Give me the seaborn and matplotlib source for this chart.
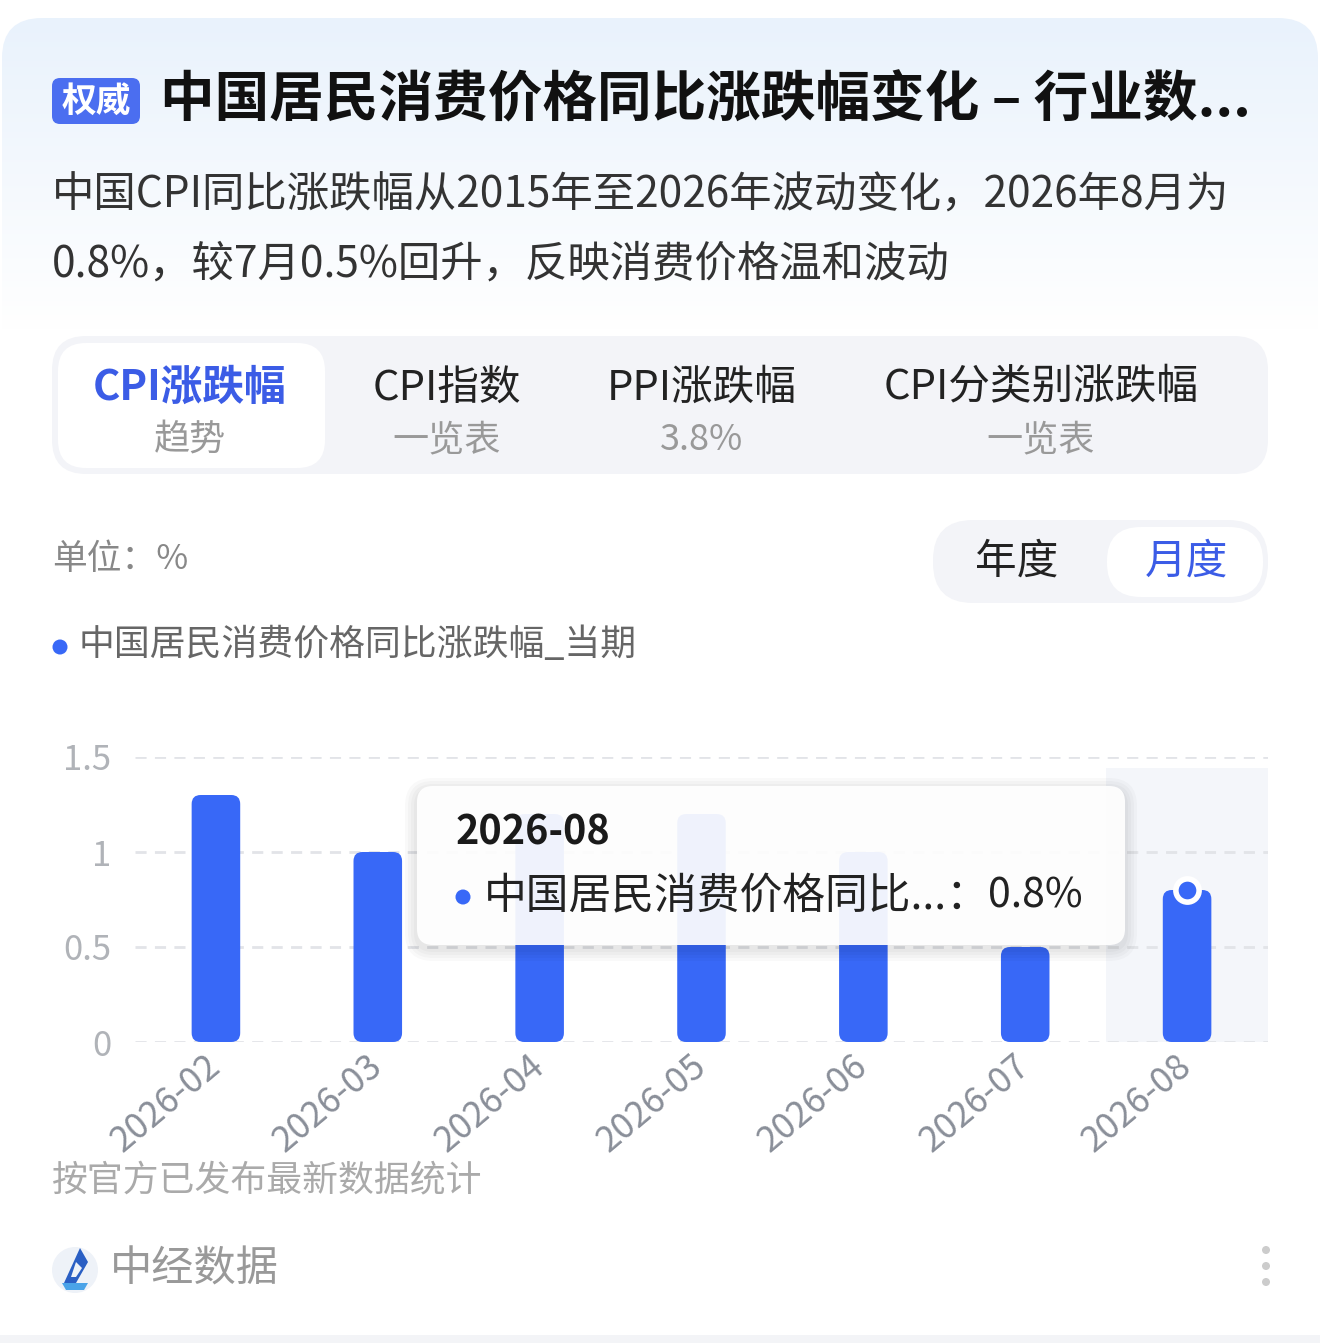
import numpy as np
import pandas as pd
import matplotlib
matplotlib.use("Agg")
import matplotlib.pyplot as plt
from matplotlib.patches import FancyBboxPatch, Rectangle, Circle, Polygon
from matplotlib.colors import LinearSegmentedColormap
import seaborn as sns

# ---------------- data ----------------
months = ["2026-02", "2026-03", "2026-04", "2026-05", "2026-06", "2026-07", "2026-08"]
cpi_values = [1.3, 1.0, 1.2, 1.2, 1.0, 0.5, 0.8]
y_ticks = [0, 0.5, 1, 1.5]
y_tick_labels = ["0", "0.5", "1", "1.5"]
highlight_month = "2026-08"
highlight_value = 0.8

title = "中国居民消费价格同比涨跌幅变化 – 行业数..."
subtitle_1 = "中国CPI同比涨跌幅从2015年至2026年波动变化，2026年8月为"
subtitle_2 = "0.8%，较7月0.5%回升，反映消费价格温和波动"
tab_titles = ["CPI涨跌幅", "CPI指数", "PPI涨跌幅", "CPI分类别涨跌幅"]
tab_subs = ["趋势", "一览表", "3.8%", "一览表"]
series_name = "中国居民消费价格同比涨跌幅_当期"

df = pd.DataFrame({"month": months, "value": cpi_values})

# ---------------- style ----------------
sns.set_theme(style="white")
plt.rcParams["font.family"] = ["Noto Sans CJK SC", "DejaVu Sans"]

W, H = 1320, 1343
fig = plt.figure(figsize=(W / 100, H / 100), dpi=100)
fig.patch.set_facecolor("white")

BLUE = "#3868F7"

# background axes in pixel coordinates
bg = fig.add_axes([0, 0, 1, 1], zorder=0)
bg.set_xlim(0, W)
bg.set_ylim(H, 0)
bg.axis("off")

grad = np.linspace(0, 1, 256).reshape(-1, 1)
cmap = LinearSegmentedColormap.from_list("g", ["#e9f2fc", "#ffffff"])
card = FancyBboxPatch((2, 18), W - 4, H - 30, boxstyle="round,pad=0,rounding_size=40",
                      facecolor="none", edgecolor="none")
bg.add_patch(card)
im = bg.imshow(grad, extent=(2, W - 2, 330, 18), cmap=cmap, aspect="auto", zorder=0)
im.set_clip_path(card)
bg.add_patch(Rectangle((0, 1335), W, 8, facecolor="#f3f4f7", edgecolor="none"))

# title badge
bg.add_patch(FancyBboxPatch((52, 78), 88, 46, boxstyle="round,pad=0,rounding_size=8",
                            facecolor="#4b6ef0", edgecolor="none"))
bg.text(96, 101, "权威", color="white", fontsize=25, fontweight="bold", ha="center", va="center")
bg.text(160, 101, title, color="#111111", fontsize=39.3, fontweight="bold", ha="left", va="center")

# subtitle
bg.text(52, 196, subtitle_1, color="#333333", fontsize=30.5, ha="left", va="center")
bg.text(52, 265, subtitle_2, color="#333333", fontsize=30.5, ha="left", va="center")

# tabs
bg.add_patch(FancyBboxPatch((52, 336), 1216, 138, boxstyle="round,pad=0,rounding_size=34",
                            facecolor="#f3f4f8", edgecolor="none"))
bg.add_patch(FancyBboxPatch((58, 343), 267, 125, boxstyle="round,pad=0,rounding_size=28",
                            facecolor="white", edgecolor="none"))
tab_x = [190, 447, 702, 1041]
for i, (t, s, x) in enumerate(zip(tab_titles, tab_subs, tab_x)):
    if i == 0:
        bg.text(x, 388, t, color="#3b5ce6", fontsize=30, fontweight="bold", ha="center", va="center")
    else:
        bg.text(x, 388, t, color="#222222", fontsize=30, ha="center", va="center")
    bg.text(x, 440, s, color="#999999", fontsize=26, ha="center", va="center")

# unit + toggle
bg.text(52, 560, "单位：%", color="#888888", fontsize=25, ha="left", va="center")
bg.add_patch(FancyBboxPatch((933, 520), 335, 83, boxstyle="round,pad=0,rounding_size=40",
                            facecolor="#f3f4f8", edgecolor="none"))
bg.add_patch(FancyBboxPatch((1107, 527), 156, 70, boxstyle="round,pad=0,rounding_size=34",
                            facecolor="white", edgecolor="none"))
bg.text(1017, 562, "年度", color="#222222", fontsize=30, ha="center", va="center")
bg.text(1186, 562, "月度", color="#3b5ce6", fontsize=30, ha="center", va="center")

# legend
bg.add_patch(Circle((60, 647), 7.5, facecolor=BLUE, edgecolor="none"))
bg.text(79, 645, series_name, color="#666666", fontsize=25.8, ha="left", va="center")

# footnote + footer
bg.text(52, 1181, "按官方已发布最新数据统计", color="#aaaaaa", fontsize=25.8, ha="left", va="center")
bg.add_patch(Circle((75, 1270), 23, facecolor="#eef2f8", edgecolor="none"))
bg.add_patch(Polygon([(62, 1283), (88, 1283), (84, 1290), (66, 1290)], closed=True,
                     facecolor="#4aa3e8", edgecolor="none"))
bg.add_patch(Polygon([(80, 1248), (88, 1262), (76, 1283), (64, 1283)], closed=True,
                     facecolor="#2a5fc4", edgecolor="none"))
bg.add_patch(Polygon([(76, 1262), (82, 1268), (76, 1277), (71, 1277)], closed=True,
                     facecolor="#eef2f8", edgecolor="none"))
bg.text(110, 1270, "中经数据", color="#999999", fontsize=30.4, ha="left", va="center")
for yy in (1250, 1266, 1282):
    bg.add_patch(Circle((1266, yy), 4, facecolor="#cccccc", edgecolor="none"))

# ---------------- chart axes ----------------
left, right, top, bottom = 135, 1268, 757, 1042
ax = fig.add_axes([left / W, 1 - bottom / H, (right - left) / W, (bottom - top) / H], zorder=1)
ax.patch.set_alpha(0)

sns.barplot(data=df, x="month", y="value", color=BLUE, width=0.3, saturation=1, ax=ax, zorder=2)

# round the bars
x_per_px = 7 / (right - left)
y_per_px = 1.5 / (bottom - top)
for p in list(ax.patches):
    if isinstance(p, Rectangle) and p.get_height() > 0:
        x0, y0, w, h = p.get_x(), p.get_y(), p.get_width(), p.get_height()
        p.set_visible(False)
        ax.add_patch(FancyBboxPatch((x0, y0), w, h,
                                    boxstyle="round,pad=0,rounding_size=%f" % (9 * x_per_px),
                                    mutation_aspect=y_per_px / x_per_px,
                                    facecolor=BLUE, edgecolor="none", zorder=2))

hi = months.index(highlight_month)
ax.axvspan(hi - 0.5, hi + 0.5, ymin=0, ymax=0.96, facecolor="#f4f6fa", zorder=0, lw=0)

ax.scatter([hi], [highlight_value], s=280, color=BLUE, edgecolors="white", linewidths=4, zorder=4)

ax.set_xlim(-0.5, len(months) - 0.5)
ax.set_ylim(0, 1.5)
ax.set_yticks(y_ticks)
ax.set_yticklabels(y_tick_labels)
for yv in y_ticks:
    ax.axhline(yv, color="#e2e4e8", lw=2, ls=(0, (4, 3)), zorder=1)
for s in ax.spines.values():
    s.set_visible(False)
ax.set_xlabel("")
ax.set_ylabel("")
ax.tick_params(axis="y", length=0, pad=17, labelsize=25, labelcolor="#b0b3b8")
ax.tick_params(axis="x", length=0, pad=14, labelsize=25.5, labelcolor="#8a8f99")
plt.setp(ax.get_xticklabels(), rotation=40, ha="right", va="center", rotation_mode="anchor")

# ---------------- tooltip overlay ----------------
ov = fig.add_axes([0, 0, 1, 1], zorder=3)
ov.set_xlim(0, W)
ov.set_ylim(H, 0)
ov.axis("off")
ov.patch.set_alpha(0)
for k in range(4):
    pad = 3 + k * 3
    ov.add_patch(FancyBboxPatch((417 - pad, 786 - pad + 4), 708 + 2 * pad, 159 + 2 * pad,
                                boxstyle="round,pad=0,rounding_size=%d" % (16 + pad),
                                facecolor="#000000", edgecolor="none", alpha=0.025))
ov.add_patch(FancyBboxPatch((417, 786), 708, 159, boxstyle="round,pad=0,rounding_size=16",
                            facecolor="white", edgecolor="none", alpha=0.93))
ov.text(456, 833, highlight_month, color="#1a1a1a", fontsize=28.5, fontweight="bold",
        ha="left", va="center")
ov.add_patch(Circle((463, 897), 7.5, facecolor=BLUE, edgecolor="none"))
ov.text(484, 896, "中国居民消费价格同比...：", color="#222222", fontsize=30.8, ha="left", va="center")
ov.text(1083, 896, f"{highlight_value}%", color="#222222", fontsize=29.5, ha="right", va="center")

fig.savefig("out.png", dpi=100, facecolor="white")
